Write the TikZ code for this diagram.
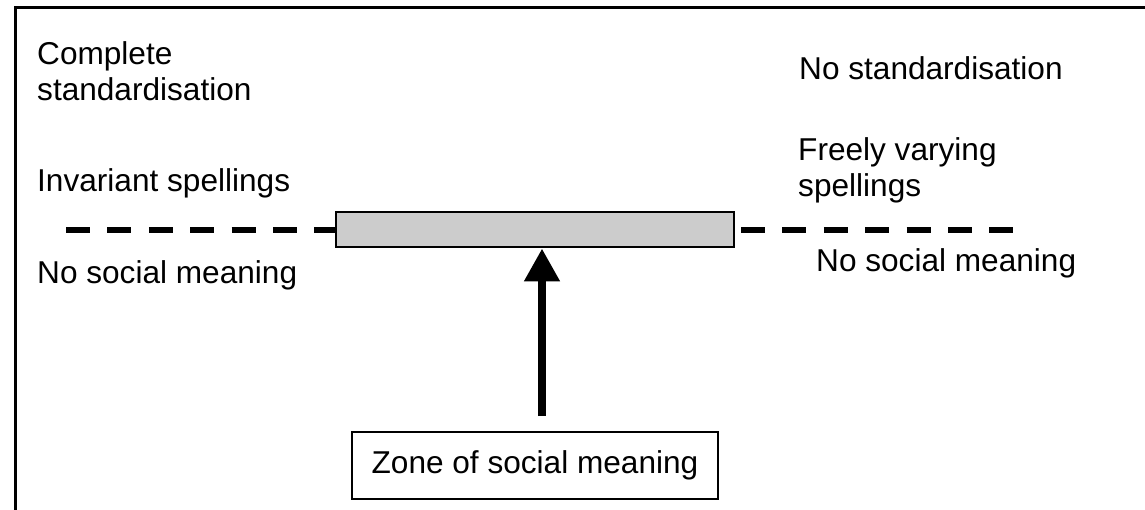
\documentclass[tikz,border=0pt]{standalone}
\usepackage{fontspec}
\setmainfont{Liberation Sans}
\usetikzlibrary{arrows.meta}
\begin{document}
\begin{tikzpicture}[x=1pt,y=-1pt,
  lbl/.style={anchor=base west,inner sep=0pt,font=\fontsize{31.6}{36}\selectfont},
  frameline/.style={line width=3pt},
  dashline/.style={line width=6pt,dash pattern=on 24pt off 17.4pt},
  barbox/.style={draw,line width=2pt,fill=black!20,minimum width=398pt,minimum height=35pt,inner sep=0pt},
  zonebox/.style={draw,line width=2pt,minimum width=366pt,minimum height=67pt,inner sep=0pt,font=\fontsize{31.6}{36}\selectfont},
  bigarrow/.style={line width=8pt,-{Triangle[width=34pt,length=33pt]}}
]
\useasboundingbox (0,0) rectangle (1145,510);
\fill[white] (0,0) rectangle (1145,510);
\draw[frameline] (15,515) -- (15,8) -- (1150,8);

\node[lbl] (complete) at (37,65) {Complete};
\node[lbl] (stdA) at (37,101) {standardisation};
\node[lbl] (nostd) at (799,80) {No standardisation};
\node[lbl] (invariant) at (37,192) {Invariant spellings};
\node[lbl] (freely) at (798,161) {Freely varying};
\node[lbl] (spellB) at (798,197) {spellings};
\node[lbl] (nsmL) at (37,284) {No social meaning};
\node[lbl] (nsmR) at (816,272) {No social meaning};

\node[barbox] (bar) at (535,230) {};
\coordinate (lstart) at (66,230);
\coordinate (rend) at (1013,230);
\draw[dashline] (lstart) -- (bar.west);
\draw[dashline,shorten <=6pt] (bar.east) -- (rend);

\node[zonebox] (zone) at (535,465.5) {Zone of social meaning};
\coordinate (astart) at (542,416);
\draw[bigarrow] (astart) -- (astart |- bar.south);
\end{tikzpicture}
\end{document}
